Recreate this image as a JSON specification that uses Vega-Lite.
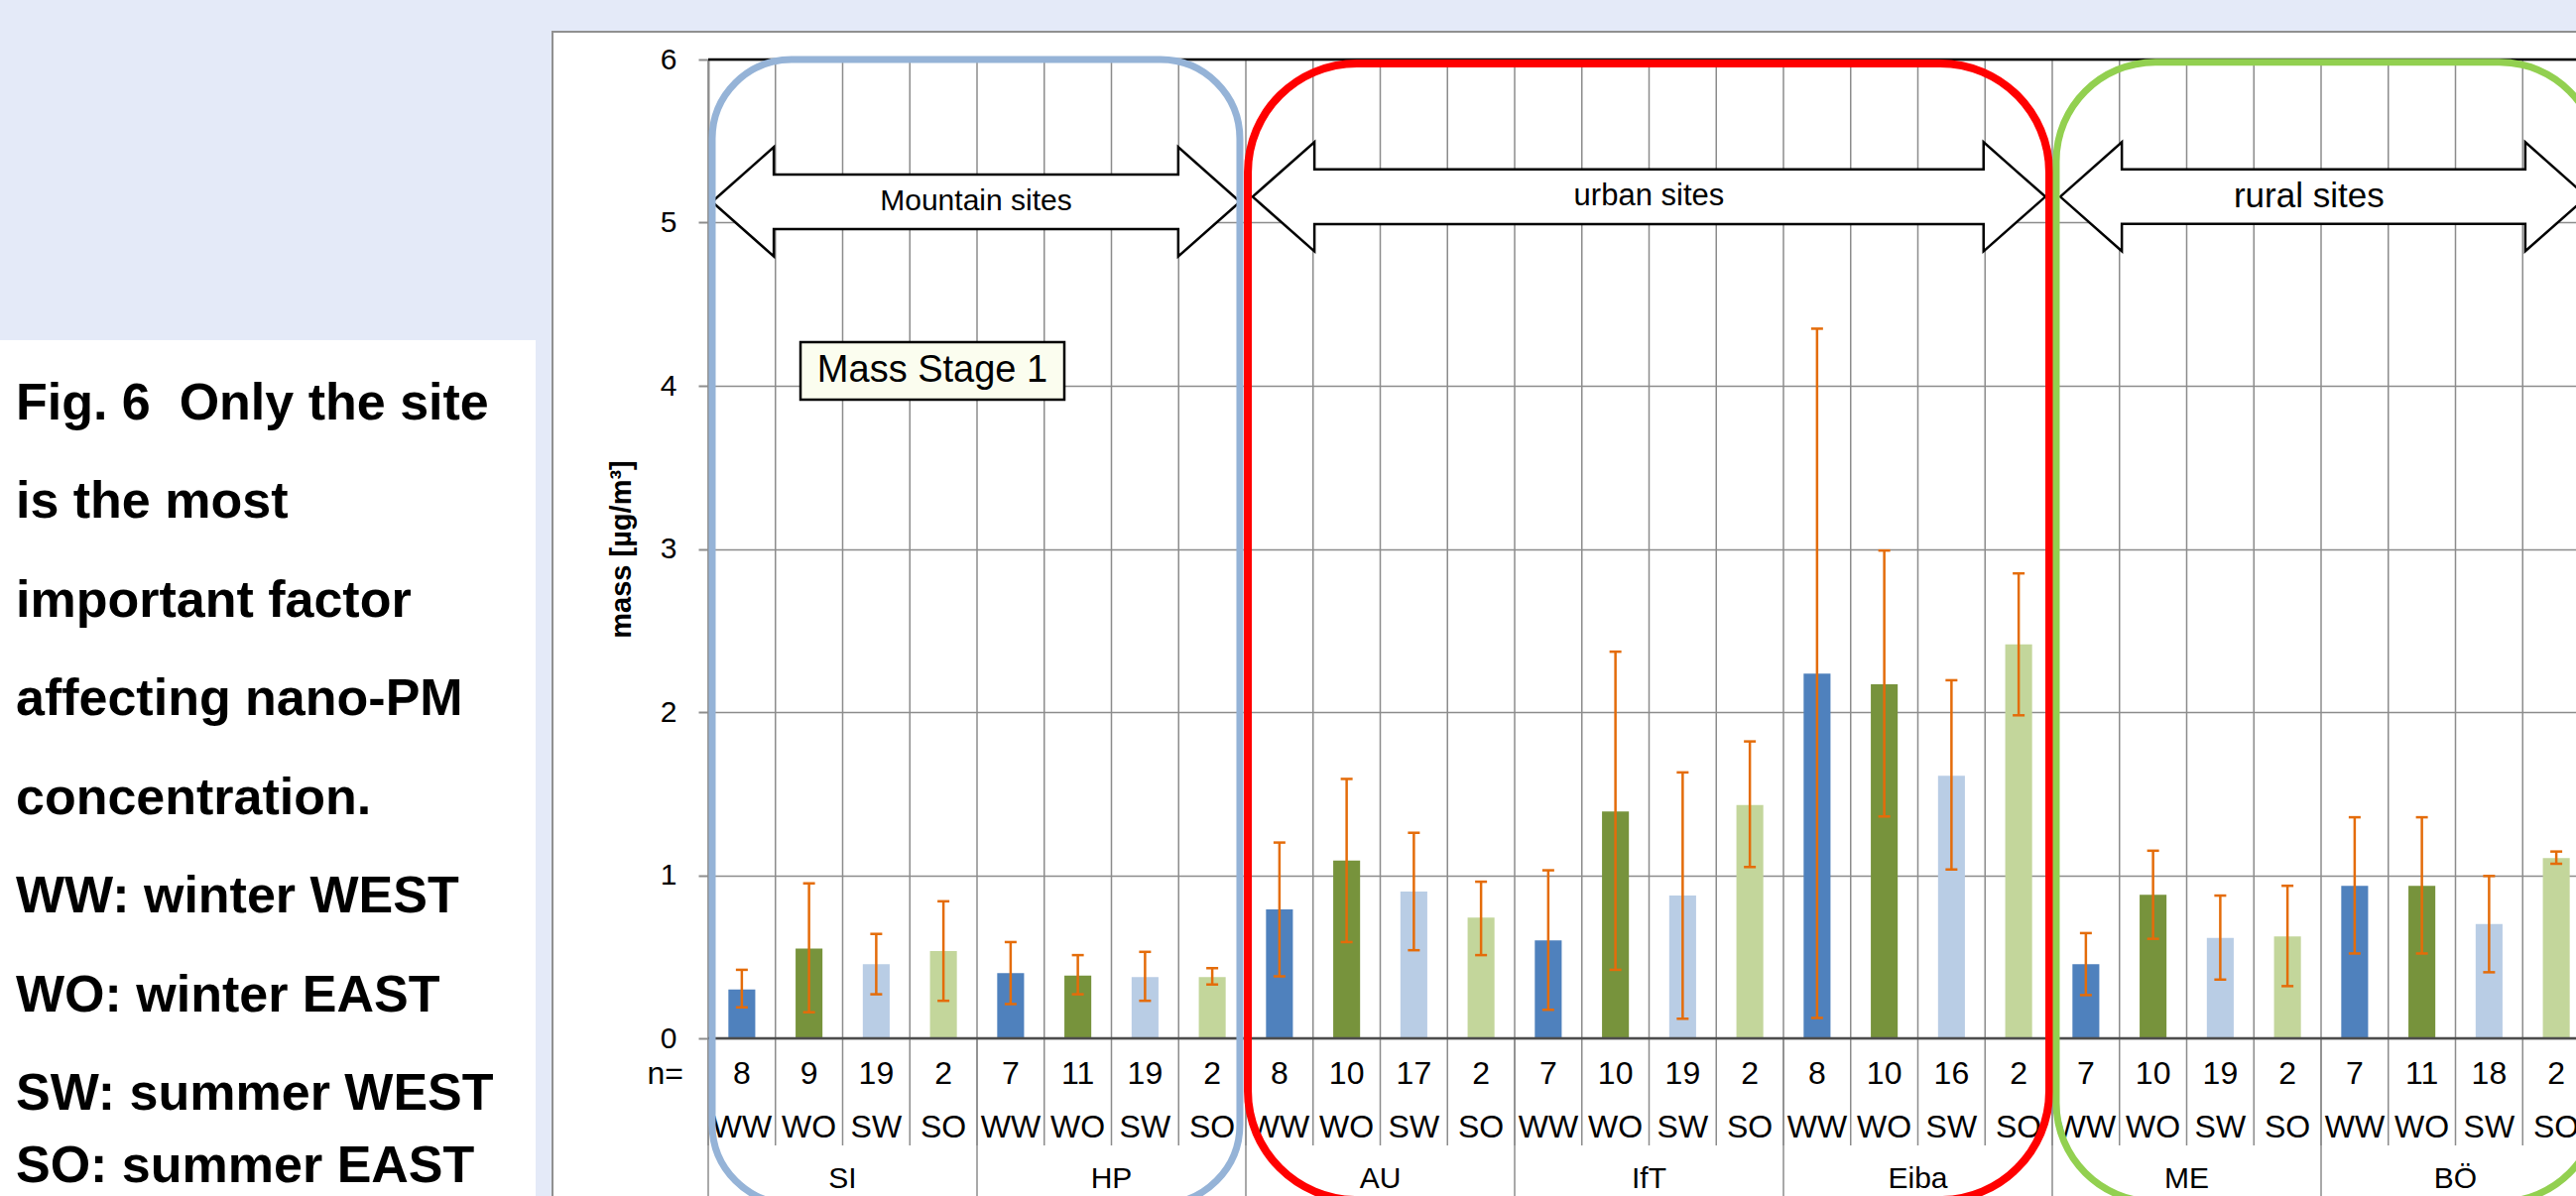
{
  "$schema": "https://vega.github.io/schema/vega-lite/v6.json",
  "width": 1897,
  "height": 987,
  "autosize": {"type": "none"},
  "padding": {"left": 714, "top": 60, "right": -14, "bottom": 159},
  "background": "#ffffff",
  "config": {"view": {"stroke": null}, "font": "Liberation Sans"},
  "resolve": {"scale": {"x": "independent"}},
  "layer": [
    {
      "data": {"values": [{}]},
      "layer": [
        {
          "mark": {"type": "rect", "fill": "#e4eaf8"},
          "encoding": {
            "x": {"datum": -10.6, "type": "quantitative", "scale": {"domain": [0, 28], "nice": false, "zero": false}, "axis": null},
            "x2": {"datum": 28.5},
            "y": {"datum": 6.5, "type": "quantitative", "title": "mass [µg/m³]"},
            "y2": {"datum": 6.17}
          }
        },
        {
          "mark": {"type": "rect", "fill": "#e4eaf8"},
          "encoding": {
            "x": {"datum": -10.6, "type": "quantitative", "scale": {"domain": [0, 28], "nice": false, "zero": false}, "axis": null},
            "x2": {"datum": -2.317},
            "y": {"datum": 6.17, "type": "quantitative", "title": "mass [µg/m³]"},
            "y2": {"datum": 4.28}
          }
        },
        {
          "mark": {"type": "rect", "fill": "#e4eaf8"},
          "encoding": {
            "x": {"datum": -2.568, "type": "quantitative", "scale": {"domain": [0, 28], "nice": false, "zero": false}, "axis": null},
            "x2": {"datum": -2.317},
            "y": {"datum": 4.28, "type": "quantitative", "title": "mass [µg/m³]"},
            "y2": {"datum": -1.3}
          }
        },
        {
          "mark": {"type": "rect", "fillOpacity": 0, "stroke": "#909090", "strokeWidth": 2},
          "encoding": {
            "x": {"datum": -2.317, "type": "quantitative", "scale": {"domain": [0, 28], "nice": false, "zero": false}, "axis": null},
            "x2": {"datum": 29.5},
            "y": {"datum": 6.17, "type": "quantitative", "title": "mass [µg/m³]"},
            "y2": {"datum": -1.5}
          }
        }
      ]
    },
    {
      "data": {
        "values": [
          {"site": "SI", "season": "WW", "n": 8, "mass": 0.30, "lo": 0.19, "hi": 0.42},
          {"site": "SI", "season": "WO", "n": 9, "mass": 0.55, "lo": 0.16, "hi": 0.95},
          {"site": "SI", "season": "SW", "n": 19, "mass": 0.455, "lo": 0.27, "hi": 0.64},
          {"site": "SI", "season": "SO", "n": 2, "mass": 0.535, "lo": 0.23, "hi": 0.84},
          {"site": "HP", "season": "WW", "n": 7, "mass": 0.40, "lo": 0.21, "hi": 0.59},
          {"site": "HP", "season": "WO", "n": 11, "mass": 0.385, "lo": 0.27, "hi": 0.51},
          {"site": "HP", "season": "SW", "n": 19, "mass": 0.375, "lo": 0.23, "hi": 0.53},
          {"site": "HP", "season": "SO", "n": 2, "mass": 0.375, "lo": 0.33, "hi": 0.43},
          {"site": "AU", "season": "WW", "n": 8, "mass": 0.79, "lo": 0.38, "hi": 1.20},
          {"site": "AU", "season": "WO", "n": 10, "mass": 1.09, "lo": 0.59, "hi": 1.59},
          {"site": "AU", "season": "SW", "n": 17, "mass": 0.90, "lo": 0.54, "hi": 1.26},
          {"site": "AU", "season": "SO", "n": 2, "mass": 0.74, "lo": 0.51, "hi": 0.96},
          {"site": "IfT", "season": "WW", "n": 7, "mass": 0.60, "lo": 0.175, "hi": 1.03},
          {"site": "IfT", "season": "WO", "n": 10, "mass": 1.39, "lo": 0.42, "hi": 2.37},
          {"site": "IfT", "season": "SW", "n": 19, "mass": 0.875, "lo": 0.12, "hi": 1.63},
          {"site": "IfT", "season": "SO", "n": 2, "mass": 1.43, "lo": 1.05, "hi": 1.82},
          {"site": "Eiba", "season": "WW", "n": 8, "mass": 2.235, "lo": 0.125, "hi": 4.35},
          {"site": "Eiba", "season": "WO", "n": 10, "mass": 2.17, "lo": 1.36, "hi": 2.99},
          {"site": "Eiba", "season": "SW", "n": 16, "mass": 1.61, "lo": 1.035, "hi": 2.195},
          {"site": "Eiba", "season": "SO", "n": 2, "mass": 2.415, "lo": 1.98, "hi": 2.85},
          {"site": "ME", "season": "WW", "n": 7, "mass": 0.455, "lo": 0.265, "hi": 0.645},
          {"site": "ME", "season": "WO", "n": 10, "mass": 0.88, "lo": 0.61, "hi": 1.15},
          {"site": "ME", "season": "SW", "n": 19, "mass": 0.615, "lo": 0.36, "hi": 0.875},
          {"site": "ME", "season": "SO", "n": 2, "mass": 0.625, "lo": 0.32, "hi": 0.935},
          {"site": "BÖ", "season": "WW", "n": 7, "mass": 0.935, "lo": 0.52, "hi": 1.355},
          {"site": "BÖ", "season": "WO", "n": 11, "mass": 0.935, "lo": 0.52, "hi": 1.355},
          {"site": "BÖ", "season": "SW", "n": 18, "mass": 0.70, "lo": 0.405, "hi": 0.995},
          {"site": "BÖ", "season": "SO", "n": 2, "mass": 1.105, "lo": 1.07, "hi": 1.145}
        ]
      },
      "transform": [{"window": [{"op": "row_number", "as": "i"}]}],
      "layer": [
        {
          "mark": {"type": "rule", "stroke": "#8c8c8c", "strokeWidth": 1.5},
          "encoding": {
            "x": {"field": "i", "type": "ordinal", "bandPosition": 0, "scale": {"type": "band", "paddingInner": 0, "paddingOuter": 0}, "axis": null},
            "y": {"datum": 6, "type": "quantitative", "title": "mass [µg/m³]"},
            "y2": {"datum": -0.657}
          }
        },
        {
          "transform": [{"filter": "datum.season === 'WW'"}],
          "mark": {"type": "rule", "stroke": "#8c8c8c", "strokeWidth": 1.5},
          "encoding": {
            "x": {"field": "i", "type": "ordinal", "bandPosition": 0, "scale": {"type": "band", "paddingInner": 0, "paddingOuter": 0}, "axis": null},
            "y": {"datum": 0, "type": "quantitative", "title": "mass [µg/m³]"},
            "y2": {"datum": -1.3}
          }
        },
        {
          "mark": {"type": "bar", "width": {"band": 0.4}},
          "encoding": {
            "x": {"field": "i", "type": "ordinal", "scale": {"type": "band", "paddingInner": 0, "paddingOuter": 0}, "axis": null},
            "y": {
              "field": "mass",
              "type": "quantitative",
              "title": "mass [µg/m³]",
              "scale": {"domain": [0, 6], "nice": false, "zero": false},
              "axis": {
                "values": [0, 1, 2, 3, 4, 5, 6],
                "format": "d",
                "title": "mass [µg/m³]",
                "grid": true,
                "gridColor": "#8c8c8c",
                "gridWidth": 1.5,
                "domainColor": "#8c8c8c",
                "domainWidth": 2,
                "tickColor": "#8c8c8c",
                "tickWidth": 2,
                "tickSize": 10,
                "labelFont": "Liberation Sans",
                "labelFontSize": 30,
                "labelColor": "#000000",
                "labelPadding": 22,
                "labelFlush": false,
                "labelOverlap": false,
                "titleFont": "Liberation Sans",
                "titleFontSize": 29,
                "titleFontWeight": "bold",
                "titleColor": "#000000",
                "titlePadding": 24
              }
            },
            "color": {
              "field": "season",
              "type": "nominal",
              "scale": {"domain": ["WW", "WO", "SW", "SO"], "range": ["#4f81bd", "#77933c", "#b9cde5", "#c3d69b"]},
              "legend": null
            }
          }
        },
        {
          "mark": {"type": "rule", "stroke": "#e46c0a", "strokeWidth": 2.5},
          "encoding": {
            "x": {"field": "i", "type": "ordinal", "scale": {"type": "band", "paddingInner": 0, "paddingOuter": 0}, "axis": null},
            "y": {"field": "lo", "type": "quantitative", "title": "mass [µg/m³]"},
            "y2": {"field": "hi"}
          }
        },
        {
          "mark": {"type": "tick", "color": "#e46c0a", "size": 12, "thickness": 2.5, "opacity": 1},
          "encoding": {
            "x": {"field": "i", "type": "ordinal", "scale": {"type": "band", "paddingInner": 0, "paddingOuter": 0}, "axis": null},
            "y": {"field": "hi", "type": "quantitative", "title": "mass [µg/m³]"}
          }
        },
        {
          "mark": {"type": "tick", "color": "#e46c0a", "size": 12, "thickness": 2.5, "opacity": 1},
          "encoding": {
            "x": {"field": "i", "type": "ordinal", "scale": {"type": "band", "paddingInner": 0, "paddingOuter": 0}, "axis": null},
            "y": {"field": "lo", "type": "quantitative", "title": "mass [µg/m³]"}
          }
        },
        {
          "mark": {"type": "text", "font": "Liberation Sans", "fontSize": 32, "color": "#000000", "baseline": "middle", "align": "center"},
          "encoding": {
            "x": {"field": "i", "type": "ordinal", "scale": {"type": "band", "paddingInner": 0, "paddingOuter": 0}, "axis": null},
            "y": {"datum": -0.219, "type": "quantitative", "title": "mass [µg/m³]"},
            "text": {"field": "n", "type": "nominal"}
          }
        },
        {
          "mark": {"type": "text", "font": "Liberation Sans", "fontSize": 32, "color": "#000000", "baseline": "middle", "align": "center"},
          "encoding": {
            "x": {"field": "i", "type": "ordinal", "scale": {"type": "band", "paddingInner": 0, "paddingOuter": 0}, "axis": null},
            "y": {"datum": -0.547, "type": "quantitative", "title": "mass [µg/m³]"},
            "text": {"field": "season", "type": "nominal"}
          }
        },
        {
          "transform": [{"filter": "datum.season === 'SW'"}],
          "mark": {"type": "text", "font": "Liberation Sans", "fontSize": 30, "color": "#000000", "baseline": "middle", "align": "center"},
          "encoding": {
            "x": {"field": "i", "type": "ordinal", "bandPosition": 0, "scale": {"type": "band", "paddingInner": 0, "paddingOuter": 0}, "axis": null},
            "y": {"datum": -0.863, "type": "quantitative", "title": "mass [µg/m³]"},
            "text": {"field": "site", "type": "nominal"}
          }
        }
      ]
    },
    {
      "data": {"values": [{}]},
      "layer": [
        {
          "mark": {"type": "rule", "stroke": "#4d4d4d", "strokeWidth": 2.5},
          "encoding": {
            "x": {"datum": 0, "type": "quantitative", "scale": {"domain": [0, 28], "nice": false, "zero": false}, "axis": null},
            "x2": {"datum": 28.5},
            "y": {"datum": 0, "type": "quantitative", "title": "mass [µg/m³]"}
          }
        },
        {
          "mark": {"type": "rule", "stroke": "#000000", "strokeWidth": 2.5},
          "encoding": {
            "x": {"datum": 0, "type": "quantitative", "scale": {"domain": [0, 28], "nice": false, "zero": false}, "axis": null},
            "x2": {"datum": 28.5},
            "y": {"datum": 6, "type": "quantitative", "title": "mass [µg/m³]"}
          }
        },
        {
          "mark": {"type": "text", "text": "n=", "font": "Liberation Sans", "fontSize": 32, "color": "#000000", "baseline": "middle", "align": "center"},
          "encoding": {
            "x": {"datum": -0.64, "type": "quantitative", "scale": {"domain": [0, 28], "nice": false, "zero": false}, "axis": null},
            "y": {"datum": -0.219, "type": "quantitative", "title": "mass [µg/m³]"}
          }
        },
        {
          "mark": {
            "type": "text",
            "text": ["Fig. 6\u00a0 Only the site", "is the most", "important factor", "affecting nano-PM", "concentration.", "WW: winter WEST", "WO: winter EAST", "SW: summer WEST"],
            "font": "Liberation Sans",
            "fontSize": 52,
            "fontWeight": "bold",
            "color": "#000000",
            "align": "left",
            "baseline": "alphabetic",
            "lineHeight": 99.5
          },
          "encoding": {
            "x": {"datum": -10.303, "type": "quantitative", "scale": {"domain": [0, 28], "nice": false, "zero": false}, "axis": null},
            "y": {"datum": 3.796, "type": "quantitative", "title": "mass [µg/m³]"}
          }
        },
        {
          "mark": {"type": "text", "text": "SO: summer EAST", "font": "Liberation Sans", "fontSize": 52, "fontWeight": "bold", "color": "#000000", "align": "left", "baseline": "alphabetic"},
          "encoding": {
            "x": {"datum": -10.303, "type": "quantitative", "scale": {"domain": [0, 28], "nice": false, "zero": false}, "axis": null},
            "y": {"datum": -0.88, "type": "quantitative", "title": "mass [µg/m³]"}
          }
        },
        {
          "mark": {"type": "rect", "fill": "#fbfdef", "stroke": "#000000", "strokeWidth": 2.5},
          "encoding": {
            "x": {"datum": 1.373, "type": "quantitative", "scale": {"domain": [0, 28], "nice": false, "zero": false}, "axis": null},
            "x2": {"datum": 5.299},
            "y": {"datum": 4.268, "type": "quantitative", "title": "mass [µg/m³]"},
            "y2": {"datum": 3.915}
          }
        },
        {
          "mark": {"type": "text", "text": "Mass Stage 1", "font": "Liberation Sans", "fontSize": 38, "color": "#000000", "baseline": "middle", "align": "center"},
          "encoding": {
            "x": {"datum": 3.336, "type": "quantitative", "scale": {"domain": [0, 28], "nice": false, "zero": false}, "axis": null},
            "y": {"datum": 4.09, "type": "quantitative", "title": "mass [µg/m³]"}
          }
        },
        {
          "mark": {
            "type": "point",
            "shape": "M-1,0L-0.766,-0.207L-0.766,-0.1035L0.766,-0.1035L0.766,-0.207L1,0L0.766,0.207L0.766,0.1035L-0.766,0.1035L-0.766,0.207Z",
            "size": 283343,
            "filled": true,
            "fill": "#ffffff",
            "stroke": "#000000",
            "strokeWidth": 2.5,
            "opacity": 1
          },
          "encoding": {
            "x": {"datum": 3.985, "type": "quantitative", "scale": {"domain": [0, 28], "nice": false, "zero": false}, "axis": null},
            "y": {"datum": 5.128, "type": "quantitative", "title": "mass [µg/m³]"}
          }
        },
        {
          "mark": {
            "type": "point",
            "shape": "M-1,0L-0.844,-0.1376L-0.844,-0.069L0.844,-0.069L0.844,-0.1376L1,0L0.844,0.1376L0.844,0.069L-0.844,0.069L-0.844,0.1376Z",
            "size": 638880,
            "filled": true,
            "fill": "#ffffff",
            "stroke": "#000000",
            "strokeWidth": 2.5,
            "opacity": 1
          },
          "encoding": {
            "x": {"datum": 13.999, "type": "quantitative", "scale": {"domain": [0, 28], "nice": false, "zero": false}, "axis": null},
            "y": {"datum": 5.159, "type": "quantitative", "title": "mass [µg/m³]"}
          }
        },
        {
          "mark": {
            "type": "point",
            "shape": "M-1,0L-0.766,-0.207L-0.766,-0.1035L0.766,-0.1035L0.766,-0.207L1,0L0.766,0.207L0.766,0.1035L-0.766,0.1035L-0.766,0.207Z",
            "size": 281961,
            "filled": true,
            "fill": "#ffffff",
            "stroke": "#000000",
            "strokeWidth": 2.5,
            "opacity": 1
          },
          "encoding": {
            "x": {"datum": 24.037, "type": "quantitative", "scale": {"domain": [0, 28], "nice": false, "zero": false}, "axis": null},
            "y": {"datum": 5.159, "type": "quantitative", "title": "mass [µg/m³]"}
          }
        },
        {
          "mark": {"type": "text", "text": "Mountain sites", "font": "Liberation Sans", "fontSize": 30, "color": "#000000", "baseline": "middle", "align": "center"},
          "encoding": {
            "x": {"datum": 3.985, "type": "quantitative", "scale": {"domain": [0, 28], "nice": false, "zero": false}, "axis": null},
            "y": {"datum": 5.128, "type": "quantitative", "title": "mass [µg/m³]"}
          }
        },
        {
          "mark": {"type": "text", "text": "urban sites", "font": "Liberation Sans", "fontSize": 31, "color": "#000000", "baseline": "middle", "align": "center"},
          "encoding": {
            "x": {"datum": 13.999, "type": "quantitative", "scale": {"domain": [0, 28], "nice": false, "zero": false}, "axis": null},
            "y": {"datum": 5.159, "type": "quantitative", "title": "mass [µg/m³]"}
          }
        },
        {
          "mark": {"type": "text", "text": "rural sites", "font": "Liberation Sans", "fontSize": 35, "color": "#000000", "baseline": "middle", "align": "center"},
          "encoding": {
            "x": {"datum": 23.82, "type": "quantitative", "scale": {"domain": [0, 28], "nice": false, "zero": false}, "axis": null},
            "y": {"datum": 5.159, "type": "quantitative", "title": "mass [µg/m³]"}
          }
        },
        {
          "mark": {"type": "rect", "fillOpacity": 0, "stroke": "#95b3d7", "strokeWidth": 7, "cornerRadius": 80},
          "encoding": {
            "x": {"datum": 0.059, "type": "quantitative", "scale": {"domain": [0, 28], "nice": false, "zero": false}, "axis": null},
            "x2": {"datum": 7.911},
            "y": {"datum": 6.0, "type": "quantitative", "title": "mass [µg/m³]"},
            "y2": {"datum": -1.015}
          }
        },
        {
          "mark": {"type": "rect", "fillOpacity": 0, "stroke": "#ff0000", "strokeWidth": 8, "cornerRadius": 110},
          "encoding": {
            "x": {"datum": 8.03, "type": "quantitative", "scale": {"domain": [0, 28], "nice": false, "zero": false}, "axis": null},
            "x2": {"datum": 19.956},
            "y": {"datum": 5.976, "type": "quantitative", "title": "mass [µg/m³]"},
            "y2": {"datum": -0.991}
          }
        },
        {
          "mark": {"type": "rect", "fillOpacity": 0, "stroke": "#92d050", "strokeWidth": 7, "cornerRadius": 100},
          "encoding": {
            "x": {"datum": 20.059, "type": "quantitative", "scale": {"domain": [0, 28], "nice": false, "zero": false}, "axis": null},
            "x2": {"datum": 28.13},
            "y": {"datum": 5.984, "type": "quantitative", "title": "mass [µg/m³]"},
            "y2": {"datum": -1.003}
          }
        }
      ]
    }
  ]
}
